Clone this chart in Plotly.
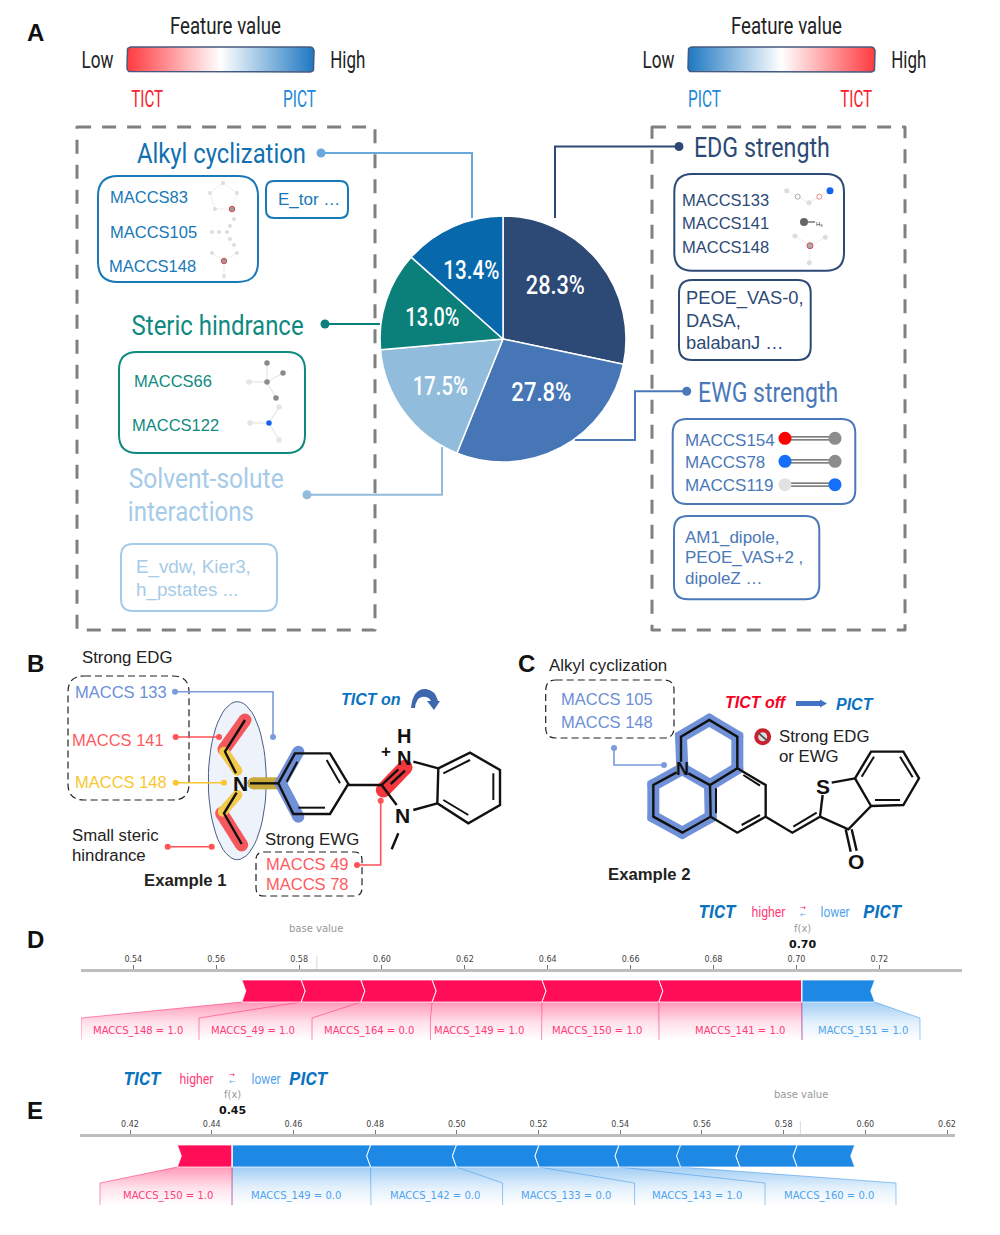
import json
import math
import plotly.graph_objects as go

# ---------- data ----------
PIE_LABELS = ["EDG strength", "EWG strength", "Solvent-solute interactions", "Steric hindrance", "Alkyl cyclization"]
PIE_VALUES = [28.3, 27.8, 17.5, 13.0, 13.4]
PIE_COLORS = ["#2C4A75", "#4676B6", "#92BCDC", "#0B7F7A", "#0868AC"]

D_TICKS = [0.54, 0.56, 0.58, 0.60, 0.62, 0.64, 0.66, 0.68, 0.70, 0.72]
D_RED = [0.5662, 0.5805, 0.5949, 0.6121, 0.6386, 0.6668, 0.7013]
D_BLUE = [0.7013, 0.7189]
D_BASE = 0.5843
D_FX = 0.7013
D_RED_LABELS = ["MACCS_148 = 1.0", "MACCS_49 = 1.0", "MACCS_164 = 0.0", "MACCS_149 = 1.0", "MACCS_150 = 1.0", "MACCS_141 = 1.0"]
D_BLUE_LABELS = ["MACCS_151 = 1.0"]

E_TICKS = [0.42, 0.44, 0.46, 0.48, 0.50, 0.52, 0.54, 0.56, 0.58, 0.60, 0.62]
E_RED = [0.4316, 0.4450]
E_BLUE = [0.4450, 0.4789, 0.4999, 0.5201, 0.5397, 0.5548, 0.5693, 0.5833, 0.5974]
E_BASE = 0.5841
E_FX = 0.4450
E_RED_LABELS = ["MACCS_150 = 1.0"]
E_BLUE_LABELS = ["MACCS_149 = 0.0", "MACCS_142 = 0.0", "MACCS_133 = 0.0", "MACCS_143 = 1.0", "MACCS_160 = 0.0"]

# ---------- styles / layout constants ----------
NARROW = "Roboto, sans-serif"
ARIAL = "Liberation Sans, Arial, sans-serif"
DEJAVU = "DejaVu Sans, sans-serif"
RED, BLUE = "#FF0D57", "#1E88E5"
W, H = 1000, 1235

D_DOM = (81, 962)
D_SCALE = 4144.4
D_T0 = (133.3, 0.54)
E_DOM = (80, 955)
E_SCALE = 4085.0
E_T0 = (130.0, 0.42)

def px2v(px, t0, scale):
    return t0[1] + (px - t0[0]) / scale

fig = go.Figure()
shapes = []
annos = []
fits = []

def text(x, y, s, size=15, color="#222", font=ARIAL, anchor="center", fit=None, weight=None, style=None):
    f = dict(size=size, color=color, family=font)
    if weight: f["weight"] = weight
    if style: f["style"] = style
    if fit: fits.append([len(annos), fit])
    annos.append(dict(x=x, y=y, xref="x", yref="y", text=s, showarrow=False, xanchor=anchor, yanchor="middle",
                      font=f, borderpad=0, borderwidth=0))

def rrect(x0, y0, x1, y1, r):
    return (f"M{x0+r},{y0} L{x1-r},{y0} Q{x1},{y0} {x1},{y0+r} L{x1},{y1-r} Q{x1},{y1} {x1-r},{y1} "
            f"L{x0+r},{y1} Q{x0},{y1} {x0},{y1-r} L{x0},{y0+r} Q{x0},{y0} {x0+r},{y0} Z")

def box(x0, y0, x1, y1, r, color, width=2, dash="solid", layer="below"):
    shapes.append(dict(type="path", path=rrect(x0, y0, x1, y1, r), xref="x", yref="y", layer=layer,
                       line=dict(color=color, width=width, dash=dash), fillcolor="rgba(0,0,0,0)"))

def lines(segs, color, width=2, caps=False, xaxis="x"):
    xs, ys = [], []
    for s in segs:
        for p in s:
            xs.append(p[0]); ys.append(p[1])
        xs.append(None); ys.append(None)
    fig.add_trace(go.Scatter(x=xs, y=ys, mode="lines+markers" if caps else "lines", xaxis=xaxis, yaxis="y",
                             line=dict(color=color, width=width), hoverinfo="skip", showlegend=False,
                             marker=dict(size=width, color=color, line=dict(width=0)) if caps else None))

def dots(pts, color, size=7, line=None):
    fig.add_trace(go.Scatter(x=[p[0] for p in pts], y=[p[1] for p in pts], mode="markers", hoverinfo="skip",
                             showlegend=False, marker=dict(size=size, color=color,
                             line=dict(width=line[1], color=line[0]) if line else dict(width=0))))

def connector(path, color, width=2, dot_size=7, ends=(True, True)):
    lines([path], color, width)
    pts = []
    if ends[0]: pts.append(path[0])
    if ends[1]: pts.append(path[-1])
    if pts: dots(pts, color, dot_size)

def zoom_pts(pts, ox, oy, k=3.0):
    return [(ox + p[0] / k, oy + p[1] / k) for p in pts]

def colorbar(x0, y0, x1, y1, c0, c1):
    r = 4
    pts = []
    corners = [(x1 - r, y0 + r, -90), (x1 - r, y1 - r, 0), (x0 + r, y1 - r, 90), (x0 + r, y0 + r, 180)]
    for cx, cy, a in corners:
        for t in range(0, 91, 15):
            an = math.radians(a + t)
            pts.append((cx + r * math.cos(an), cy + r * math.sin(an)))
    pts.append(pts[0])
    fig.add_trace(go.Scatter(x=[p[0] for p in pts], y=[p[1] for p in pts], mode="lines", fill="toself", hoverinfo="skip",
                             showlegend=False, line=dict(color="#46597F", width=1.5),
                             fillgradient=dict(type="horizontal", start=x0, stop=x1,
                                               colorscale=[[0, c0], [0.5, "#FFFFFF"], [1, c1]])))

# ---------- panel A ----------
text(35, 32, "<b>A</b>", 24, "#111")
for cx, c0, c1 in [(224, "#FF3A3F", "#1E78C2"), (785, "#1E78C2", "#FF3A3F")]:
    colorbar(cx - 97, 47, cx + 90, 72, c0, c1)
    text(cx + 1, 26, "Feature value", 23, "#222", NARROW, fit=111)
    text(cx - 126.5, 60, "Low", 23, "#222", NARROW, fit=32)
    text(cx + 123.5, 60, "High", 23, "#222", NARROW, fit=35)
text(147, 99, "TICT", 23, "#F5222D", NARROW, fit=32)
text(299, 99, "PICT", 23, "#2288D8", NARROW, fit=33)
text(704, 99, "PICT", 23, "#2288D8", NARROW, fit=33)
text(856, 99, "TICT", 23, "#F5222D", NARROW, fit=32)

box(77, 127, 375, 630, 0.1, "#808080", 3, "14px,11px")
box(652, 127, 905, 630, 0.1, "#808080", 3, "14px,11px")

# left headings and boxes
ALK, STE, SOL = "#1070B0", "#0F8A80", "#A6CBE8"
EDG, EWG = "#2C4A75", "#4A78B8"
text(221.5, 153, "Alkyl cyclization", 28, ALK, NARROW, fit=169)
connector([(321, 153), (472, 153), (472, 218)], "#69A8DC", 2, 9, (True, False))
box(98, 176, 258, 282, 20, "#1878B8")
box(266, 181, 348, 218, 8, "#1878B8")
text(110, 197, "MACCS83", 16.5, "#1878B8", ARIAL, "left")
text(110, 232, "MACCS105", 16.5, "#1878B8", ARIAL, "left")
text(109, 266, "MACCS148", 16.5, "#1878B8", ARIAL, "left")
text(309, 199, "E_tor …", 17, "#1878B8")

text(217, 325, "Steric hindrance", 28, STE, NARROW, fit=172)
connector([(325, 324), (380, 324)], "#0B7F7A", 2, 9, (True, False))
box(119, 352, 305, 453, 18, STE)
text(134, 381, "MACCS66", 16.5, STE, ARIAL, "left")
text(132, 425, "MACCS122", 16.5, STE, ARIAL, "left")

text(205.5, 479, "Solvent-solute", 27, SOL, NARROW, fit=155)
text(191, 512, "interactions", 27, SOL, NARROW, fit=126)
connector([(307, 494.7), (442, 494.7), (442, 447)], "#92BCDC", 2, 9, (True, False))
box(121, 544, 277, 611, 12, SOL)
text(136, 567, "E_vdw, Kier3,", 18.8, SOL, ARIAL, "left")
text(136, 590, "h_pstates ...", 18.8, SOL, ARIAL, "left")

# small fragments (left)
PALE = "#DDDDDD"
lines([[(223, 183), (237, 193), (232, 209), (215, 209), (210, 193), (223, 183)],
       [(212, 253), (224, 261), (237, 253)], [(224, 261), (224, 276)]], "#EFEFEF", 1)
dots([(223, 183), (237, 193), (215, 209), (210, 193), (234, 219), (230, 226), (227, 232), (219, 232), (212, 232),
      (230, 239), (234, 245), (212, 253), (237, 253), (224, 276)], PALE, 4)
dots([(232, 209), (224, 261)], "#999999", 5.5, ("#D94A55", 1))
lines([[(267, 363), (267, 382)], [(283, 373), (267, 382)], [(249, 382), (267, 382)], [(267, 382), (276, 398)],
       [(279, 407), (269, 423)], [(250, 423), (269, 423)], [(269, 423), (279, 440)]], "#E0E0E0", 1)
dots([(267, 363), (283, 373), (267, 382), (276, 398)], "#8A8A8A", 5.5)
dots([(249, 382), (279, 407), (250, 423), (279, 440)], "#E4E4E4", 5.5)
dots([(269, 423)], "#1464F0", 5.5)

# right headings and boxes
text(762, 147, "EDG strength", 28, EDG, NARROW, fit=136)
connector([(555, 218), (555, 146.5), (679, 146.5)], EDG, 2, 9, (False, True))
box(674.3, 174, 844, 270.7, 18, EDG)
text(682, 199.5, "MACCS133", 16.5, EDG, ARIAL, "left")
text(682, 222.7, "MACCS141", 16.5, EDG, ARIAL, "left")
text(682, 247, "MACCS148", 16.5, EDG, ARIAL, "left")
box(679, 280, 810.7, 360, 13, EDG)
text(686, 298, "PEOE_VAS-0,", 18.3, EDG, ARIAL, "left")
text(686, 320, "DASA,", 18.3, EDG, ARIAL, "left")
text(686, 342, "balabanJ …", 18.3, EDG, ARIAL, "left")

text(768, 392, "EWG strength", 28, EWG, NARROW, fit=140)
connector([(686.7, 391.3), (635, 391.3), (635, 440), (575, 440)], EWG, 2, 9, (True, False))
box(672.7, 419, 855.3, 504, 14, EWG)
text(685, 440, "MACCS154", 17, EWG, ARIAL, "left")
text(685, 462.7, "MACCS78", 17, EWG, ARIAL, "left")
text(685, 485, "MACCS119", 17, EWG, ARIAL, "left")
box(674, 516, 819.3, 599.3, 14, EWG)
text(685, 537, "AM1_dipole,", 17, EWG, ARIAL, "left")
text(685, 557, "PEOE_VAS+2 ,", 17, EWG, ARIAL, "left")
text(685, 578, "dipoleZ …", 17, EWG, ARIAL, "left")

# small fragments (right)
lines([[(786.7, 190.7), (797.7, 196.7), (809, 202.7), (819.3, 196.7), (830, 190.7)],
       [(795, 236), (810, 245.7), (825.3, 237.3)], [(810, 245.7), (809.3, 262.7)]], "#EFEFEF", 1)
dots([(786.7, 190.7), (809, 202.7), (795, 236), (825.3, 237.3), (809.3, 262.7)], PALE, 5)
dots([(797.7, 196.7)], "#FFFFFF", 5, ("#AAAAAA", 1))
dots([(819.3, 196.7)], "#FFFFFF", 5, ("#E58A8A", 1))
dots([(830, 190.7)], "#1464F0", 7)
dots([(810, 245.7)], "#AAAAAA", 6, ("#D94A55", 1))
lines([[(804, 222), (815, 222)]], "#333333", 1)
dots([(804, 222)], "#666666", 8)
text(819, 224, "H<sub>3</sub>", 6, "#333")

FG_ROWS = [(438.3, "#FF0000", "#8C8C8C"), (461.3, "#1470FA", "#8C8C8C"), (484.7, "#E2E2E2", "#1470FA")]
for y, a, b in FG_ROWS:
    lines([[(790, y - 1.5), (832, y - 1.5)], [(790, y + 1.5), (832, y + 1.5)]], "#555555", 1.2)
    dots([(785, y)], a, 13)
    dots([(835, y)], b, 13)

# ---------- panel B ----------
text(35, 663, "<b>B</b>", 24, "#111")
text(127, 657, "Strong EDG", 16.8, "#222")
box(68, 676, 189, 800, 16, "#222", 1.2, "7px,4px")
text(121, 692, "MACCS 133", 16.5, "#6C8FD6")
text(118, 740, "MACCS 141", 16.5, "#FF5A5F")
text(121, 782, "MACCS 148", 16.5, "#F8C72E")
fig.add_trace(go.Scatter(x=[237.3 + 29 * math.cos(math.radians(a)) for a in range(0, 361, 6)],
                         y=[780.7 + 79 * math.sin(math.radians(a)) for a in range(0, 361, 6)],
                         mode="lines", fill="toself", fillcolor="#EEF2FB", line=dict(color="#4A5C85", width=1),
                         hoverinfo="skip", showlegend=False))
connector([(175, 691.7), (273, 691.7), (273, 737)], "#7B9BDC", 1.6, 6)
connector([(175.7, 737), (219, 737)], "#FF5257", 1.6, 6)
connector([(175.7, 782.7), (224, 782.7)], "#F8C72E", 1.6, 6)
connector([(167.7, 846.7), (211.7, 846.7)], "#FF5257", 1.6, 6)
text(72, 835, "Small steric", 16.8, "#222", ARIAL, "left")
text(72, 855, "hindrance", 16.8, "#222", ARIAL, "left")
text(185, 880, "<b>Example 1</b>", 16.7, "#222")
text(312, 839, "Strong EWG", 16.8, "#222")
box(256, 852, 362, 896, 8, "#222", 1.2, "7px,4px")
text(307, 864, "MACCS 49", 16.5, "#FF5A5F")
text(307, 884, "MACCS 78", 16.5, "#FF5A5F")
connector([(357, 865), (380.7, 865), (380.7, 800.7)], "#FF5257", 1.6, 6)
text(371, 699, "<b><i>TICT on</i></b>", 16, "#0A72BF")
shapes.append(dict(type="path", xref="x", yref="y", fillcolor="#3D68AE", line=dict(width=0),
                   path="M411,708 Q413,688 426,689 Q435,690 438,701 L440,701 L434,710 L427,701 L431,701 Q428,696 422,697 Q416,698 415,708 Z"))

z = lambda pts: zoom_pts(pts, 0, 640)
lines([z([(735, 240), (672, 328)]), z([(665, 520), (725, 615)])], "#F4575C", 13, True)
lines([z([(672, 335), (712, 392)]), z([(712, 465), (668, 515)])], "#F3C94A", 10, True)
lines([z([(760, 430), (835, 430)])], "#C9A93A", 12, True)
lines([z([(895, 335), (842, 430), (895, 530)])], "#6F8FD6", 12, True)
lines([z([(1150, 450), (1215, 382)])], "#F4373C", 15, True)
B_SEGS = [[(708, 400), (675, 335), (735, 240)], [(710, 458), (672, 520), (725, 612)], [(750, 430), (835, 430)],
          [(835, 430), (885, 340), (990, 340), (1045, 432), (990, 522), (880, 522), (835, 430)],
          [(1045, 435), (1145, 435)], [(1145, 435), (1195, 388)], [(1172, 432), (1215, 392)], [(1145, 435), (1190, 495)],
          [(1240, 365), (1315, 385)], [(1240, 510), (1312, 490)],
          [(1315, 385), (1410, 338), (1500, 390), (1500, 495), (1405, 550), (1312, 490), (1315, 385)],
          [(1195, 580), (1175, 628)]]
lines([z(s) for s in B_SEGS], "#111111", 2.4)
B_INNER = [[(860, 425), (892, 365)], [(980, 360), (1020, 430)], [(895, 503), (975, 503)],
           [(1330, 400), (1410, 360)], [(1480, 400), (1480, 480)], [(1330, 480), (1405, 525)]]
lines([z(s) for s in B_INNER], "#111111", 2)
text(240.5, 783, "<b>N</b>", 21, "#111")
text(404, 736, "<b>H</b>", 20, "#111")
text(404, 758, "<b>N</b>", 20, "#111")
text(386, 751, "<b>+</b>", 17, "#111")
text(402, 815, "<b>N</b>", 21, "#111")

# ---------- panel C ----------
text(526, 663, "<b>C</b>", 24, "#111")
text(549, 665, "Alkyl cyclization", 16.9, "#222", ARIAL, "left")
box(545.7, 680, 674, 738, 10, "#222", 1.2, "7px,4px")
text(607, 699, "MACCS 105", 16.5, "#6C8FD6")
text(607, 722, "MACCS 148", 16.5, "#6C8FD6")
connector([(614, 748), (614, 765), (664, 765)], "#7B9BDC", 1.6, 6)
text(756, 702, "<b><i>TICT off</i></b>", 16, "#F5001E")
shapes.append(dict(type="path", xref="x", yref="y", fillcolor="#4472C4", line=dict(width=0),
                   path="M796,701 L820,701 L820,699.5 L827,703.5 L820,707.5 L820,706 L796,706 Z"))
text(855, 704, "<b><i>PICT</i></b>", 16, "#0A72BF")
dots([(762.7, 736.7)], "#C8202F", 17)
dots([(762.7, 736.7)], "#DDDDDD", 9)
lines([[(758.5, 733), (767, 740.5)]], "#555555", 1.8)
text(779, 736, "Strong EDG", 16.8, "#222", ARIAL, "left")
text(779, 756, "or EWG", 16.8, "#222", ARIAL, "left")
text(649, 874, "<b>Example 2</b>", 16.7, "#222")

z = lambda pts: zoom_pts(pts, 500, 640)
lines([z([(547, 387), (543, 290), (628, 240), (712, 290), (712, 385), (630, 435), (547, 387)]),
       z([(547, 387), (460, 435), (460, 530), (547, 578), (632, 530), (630, 435)])], "#7090D8", 12, True)
C_SEGS = [[(543, 365), (543, 290), (628, 240), (712, 290), (712, 385), (630, 435), (565, 400)],
          [(530, 397), (460, 435), (460, 530), (547, 578), (632, 530), (630, 435)],
          [(712, 385), (797, 435), (797, 530), (712, 578), (632, 530)],
          [(797, 530), (877, 578), (960, 530)], [(960, 530), (968, 465)], [(995, 428), (1065, 415)],
          [(1065, 415), (1113, 498), (1045, 568), (960, 530)],
          [(1065, 415), (1113, 335), (1210, 335), (1257, 415), (1210, 495), (1113, 498)],
          [(1037, 568), (1052, 635)], [(1055, 568), (1070, 632)]]
lines([z(s) for s in C_SEGS], "#111111", 2.4)
C_INNER = [[(730, 405), (780, 437)], [(725, 555), (780, 525)], [(648, 445), (648, 520)], [(880, 560), (950, 518)],
           [(1085, 410), (1122, 350)], [(1200, 350), (1238, 412)], [(1125, 480), (1200, 480)]]
lines([z(s) for s in C_INNER], "#111111", 2)
text(682, 769, "<b>N</b>", 18, "#111")
text(823, 786, "<b>S</b>", 21, "#111")
text(856, 861, "<b>O</b>", 21, "#111")

# ---------- pie ----------
PIE_TEXT_AT = [(555, 285), (541, 392), (440, 386), (432, 317), (471, 270)]
PIE_TEXT_W = [59, 60, 55, 54, 56]
fig.add_trace(go.Pie(labels=PIE_LABELS, values=PIE_VALUES, sort=False, direction="clockwise", rotation=0,
                     marker=dict(colors=PIE_COLORS, line=dict(color="#FFFFFF", width=1.5)),
                     textinfo="none", showlegend=False, hoverinfo="skip",
                     domain=dict(x=[380 / W, 626 / W], y=[1 - 462 / H, 1 - 216 / H])))
for v, (px, py), tw in zip(PIE_VALUES, PIE_TEXT_AT, PIE_TEXT_W):
    text(px, py, f"{v:.1f}%", 26, "#FFFFFF", NARROW, fit=tw, weight=500)

# ---------- force plots ----------
def force(axis, edges_red, edges_blue, y_top, y_bot, y_c, y_end, scale, t0, red_labels, blue_labels,
          red_edges, blue_edges, red_cx, blue_cx, base, fx):
    d = 4.0 / scale
    def poly(e, sgn):
        xs, ys = [], []
        for i in range(len(e) - 1):
            a, b = e[i], e[i + 1]
            left_d = sgn * d if not (sgn < 0 and i == 0) else 0
            right_d = sgn * d if not (sgn > 0 and i == len(e) - 2) else 0
            ym = (y_top + y_bot) / 2
            xs += [a, a + left_d, a, b, b + right_d, b, a, None]
            ys += [y_top, ym, y_bot, y_bot, ym, y_top, y_top, None]
        return xs, ys
    def gradient(e, label_edges, rgb):
        for i in range(len(e) - 1):
            l0 = px2v(label_edges[i], t0, scale); l1 = px2v(label_edges[i + 1], t0, scale)
            fig.add_trace(go.Scatter(x=[e[i], e[i + 1], l1, l1, l0, l0, e[i]],
                                     y=[y_bot, y_bot, y_c, y_end, y_end, y_c, y_bot], mode="lines", fill="toself",
                                     xaxis=axis, yaxis="y", hoverinfo="skip", showlegend=False,
                                     line=dict(color=f"rgba({rgb},0)", width=0),
                                     fillgradient=dict(type="vertical", start=y_bot, stop=y_end,
                                                       colorscale=[[0, f"rgba({rgb},0.42)"], [0.55, f"rgba({rgb},0.12)"], [1, f"rgba({rgb},0)"]])))
        for i in range(len(e)):
            l = px2v(label_edges[i], t0, scale)
            lines([[(e[i], y_bot), (l, y_c), (l, y_end)]], f"rgba({rgb},0.45)", 1, xaxis=axis)
    gradient(edges_blue, blue_edges, "30,136,229")
    gradient(edges_red, red_edges, "255,13,87")
    for e, sgn, col in ((edges_red, 1, RED), (edges_blue, -1, BLUE)):
        xs, ys = poly(e, sgn)
        fig.add_trace(go.Scatter(x=xs, y=ys, mode="lines", fill="toself", fillcolor=col, xaxis=axis, yaxis="y",
                                 line=dict(color="rgba(255,255,255,0.75)", width=1), hoverinfo="skip", showlegend=False))
    ya = y_top - 10
    lines([[(base, ya - 14), (base, ya + 1)]], "#D8D8D8", 1, xaxis=axis)
    lines([[(fx, ya - 14), (fx, y_bot)]], "rgba(255,255,255,0.9)", 1.2, xaxis=axis)
    for s, cx in zip(red_labels, red_cx):
        text(cx, y_c + 12.5, s, 10, "#FF3C78", DEJAVU)
    for s, cx in zip(blue_labels, blue_cx):
        text(cx, y_c + 12.5, s, 10, "#4FA3EE", DEJAVU)

force("x2", D_RED, D_BLUE, 980, 1002, 1018, 1040, D_SCALE, D_T0, D_RED_LABELS, D_BLUE_LABELS,
      [81, 199, 312, 430.5, 541.5, 659, 802], [802, 920],
      [137.8, 253, 368.6, 479, 597, 740], [863], D_BASE, D_FX)
force("x3", E_RED, E_BLUE[:6], 1145, 1167, 1183, 1205, E_SCALE, E_T0, E_RED_LABELS, E_BLUE_LABELS,
      [100, 232], [232, 371, 502.6, 634.6, 765, 896],
      [167.7], [296, 435, 565.7, 697, 829], E_BASE, E_FX)
# remaining E blue blocks with no label
xs, ys = [], []
for a, b in zip(E_BLUE[5:-1], E_BLUE[6:]):
    d = 4.0 / E_SCALE
    xs += [a, a - d, a, b, b - d, b, a, None]
    ys += [1145, 1156, 1167, 1167, 1156, 1145, 1145, None]
fig.add_trace(go.Scatter(x=xs, y=ys, mode="lines", fill="toself", fillcolor=BLUE, xaxis="x3", yaxis="y",
                         line=dict(color="rgba(255,255,255,0.75)", width=1), hoverinfo="skip", showlegend=False))

text(35, 939, "<b>D</b>", 24, "#111")
text(35, 1110, "<b>E</b>", 24, "#111")
text(316, 928.5, "base value", 10, "#999", DEJAVU)
text(802, 928.5, "f(x)", 10, "#999", DEJAVU)
text(802, 944, "<b>0.70</b>", 11, "#111", DEJAVU)
text(800.5, 1094.5, "base value", 10, "#999", DEJAVU)
text(232, 1094.5, "f(x)", 10, "#999", DEJAVU)
text(232, 1110, "<b>0.45</b>", 11, "#111", DEJAVU)
for xt, xh, xa, xl, xp, y in [(717.5, 768, 803, 834.5, 883, 911), (143, 196, 232, 266, 309, 1078)]:
    text(xt, y, "TICT", 19, "#0A72BF", NARROW, fit=37, weight=700, style="italic")
    text(xh, y + 1, "higher", 14, "#FF3C78", NARROW, fit=34)
    text(xa, y - 3.5, "→", 7, RED, DEJAVU)
    text(xa, y + 3.5, "←", 7, "#4FA3EE", DEJAVU)
    text(xl, y + 1, "lower", 14, "#4FA3EE", NARROW, fit=29)
    text(xp, y, "PICT", 19, "#0A72BF", NARROW, fit=38, weight=700, style="italic")

def force_axis(dom, t0, scale, ticks, ypos):
    return dict(domain=[dom[0] / W, dom[1] / W], range=[px2v(dom[0], t0, scale), px2v(dom[1], t0, scale)],
                anchor="free", position=1 - ypos / H, side="top", ticks="outside", ticklen=4, tickwidth=1, tickcolor="#777",
                tickvals=ticks, ticktext=[f"{v:.2f}" for v in ticks], showline=True, linecolor="#BDBDBD", linewidth=2.5,
                showgrid=False, zeroline=False, tickfont=dict(family=DEJAVU, size=8, color="#444"), fixedrange=True)

fig.update_layout(
    width=W, height=H, margin=dict(l=0, r=0, t=0, b=0), paper_bgcolor="#FFFFFF", plot_bgcolor="rgba(0,0,0,0)",
    showlegend=False, autosize=False, shapes=shapes, annotations=annos,
    xaxis=dict(domain=[0, 1], range=[0, W], visible=False, fixedrange=True),
    yaxis=dict(domain=[0, 1], range=[H, 0], visible=False, fixedrange=True),
    xaxis2=force_axis(D_DOM, D_T0, D_SCALE, D_TICKS, 969.5),
    xaxis3=force_axis(E_DOM, E_T0, E_SCALE, E_TICKS, 1135),
)
post = ("document.body.style.margin='0';"
        "var fits=" + json.dumps(fits) + ";"
        "fits.forEach(function(p){var t=document.querySelector('.annotation[data-index=\"'+p[0]+'\"] text');"
        "if(t){t.setAttribute('textLength',p[1]);t.setAttribute('lengthAdjust','spacingAndGlyphs');}});")
fig.write_html("out.html", config={"displayModeBar": False}, post_script=post)
